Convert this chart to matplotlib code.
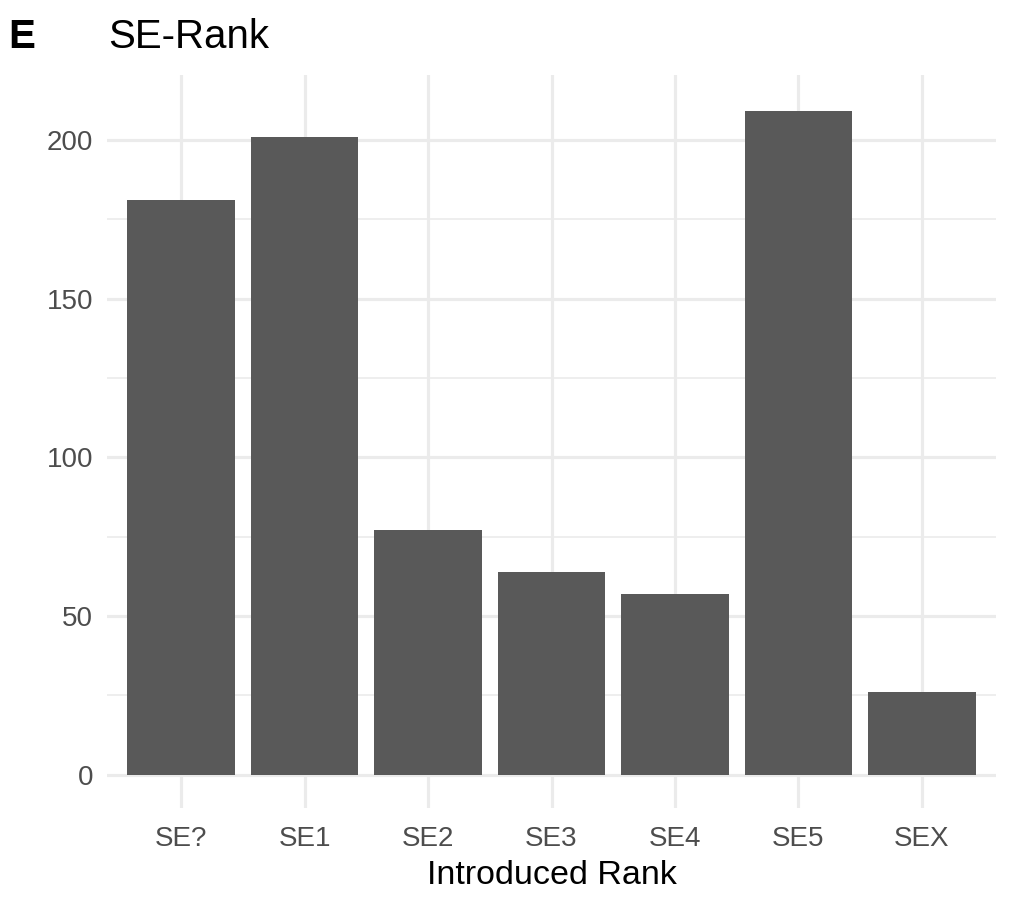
import matplotlib
matplotlib.use("Agg")
import matplotlib.pyplot as plt
from matplotlib.ticker import MultipleLocator

categories = ["SE?", "SE1", "SE2", "SE3", "SE4", "SE5", "SEX"]
counts = [181, 201, 77, 64, 57, 209, 26]
y_ticks = [0, 50, 100, 150, 200]

plt.rcParams['font.family'] = ['Liberation Sans', 'DejaVu Sans']

W, H = 1020, 902
fig = plt.figure(figsize=(W / 100, H / 100), dpi=100)
left, right, top, bottom = 107, 996, 75, 808
ax = fig.add_axes([left / W, 1 - bottom / H, (right - left) / W, (bottom - top) / H])

x = list(range(1, len(categories) + 1))
ax.bar(x, counts, width=0.87, color="#595959", zorder=3)

ymax = max(counts)
ax.set_ylim(-0.05 * ymax, 1.055 * ymax)
ax.set_xlim(0.4, len(categories) + 0.6)
ax.set_yticks(y_ticks)
ax.yaxis.set_minor_locator(MultipleLocator(25))
ax.set_xticks(x)
ax.set_xticklabels(categories)

ax.grid(which="major", axis="both", color="#EBEBEB", linewidth=2.3, zorder=0)
ax.grid(which="minor", axis="y", color="#EBEBEB", linewidth=1.2, zorder=0)
ax.set_axisbelow(True)
for s in ax.spines.values():
    s.set_visible(False)
ax.tick_params(axis="both", which="both", length=0, labelsize=20, labelcolor="#4D4D4D")
ax.tick_params(axis="x", pad=13)
ax.tick_params(axis="y", pad=10)

ax.set_xlabel("Introduced Rank", fontsize=24.5, color="black", labelpad=6)

fig.text(108 / W, 1 - 37 / H, "SE-Rank", fontsize=29, va="center", ha="left", color="black")
fig.text(8 / W, 1 - 37 / H, "E", fontsize=29, fontweight="bold", va="center", ha="left", color="black")

fig.savefig("out.png", dpi=100, facecolor="white")
